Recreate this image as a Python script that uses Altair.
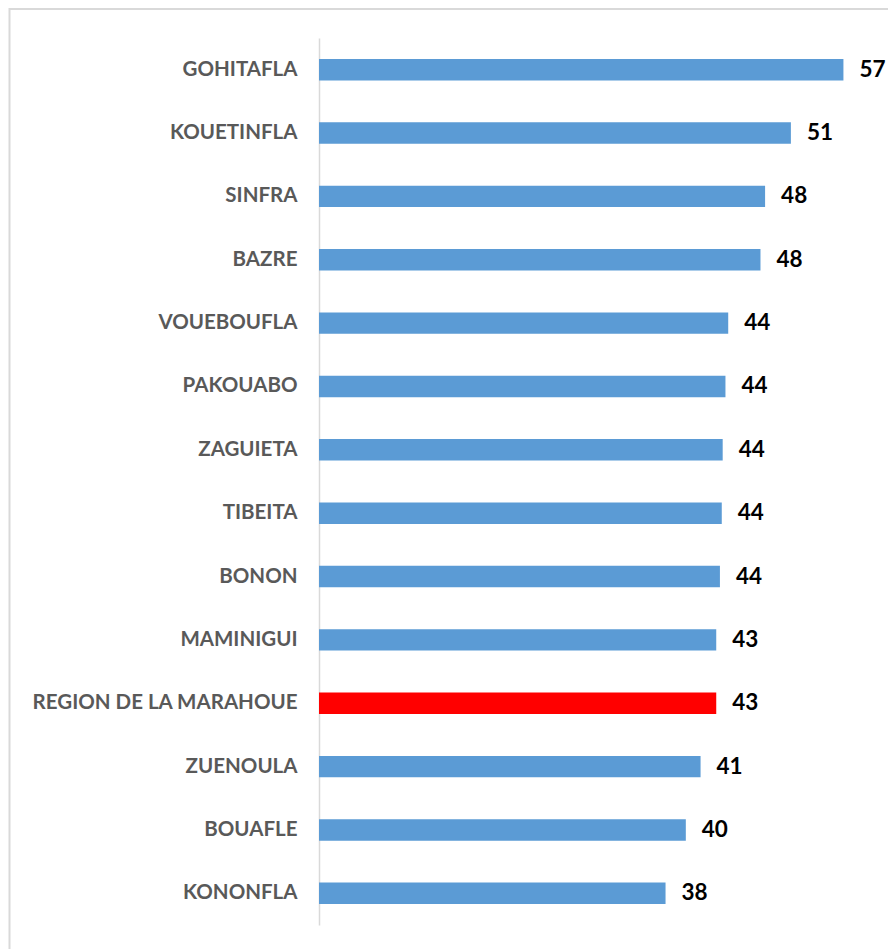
import altair as alt
import pandas as pd

categories = ["GOHITAFLA", "KOUETINFLA", "SINFRA", "BAZRE", "VOUEBOUFLA", "PAKOUABO",
              "ZAGUIETA", "TIBEITA", "BONON", "MAMINIGUI", "REGION DE LA MARAHOUE",
              "ZUENOULA", "BOUAFLE", "KONONFLA"]
values = [56.9, 51.2, 48.4, 47.9, 44.4, 44.1, 43.8, 43.7, 43.5, 43.1, 43.1, 41.4, 39.8, 37.6]
highlight = "REGION DE LA MARAHOUE"

df = pd.DataFrame({"cat": categories, "val": values})
df["is_region"] = df["cat"] == highlight

FONT = "Lato"

y_enc = alt.Y("cat:N", sort=categories, title=None,
              scale=alt.Scale(paddingInner=0.662, paddingOuter=0.331),
              axis=alt.Axis(ticks=False, labelPadding=22, labelFont=FONT, labelFontSize=20.5,
                            labelFontWeight="bold", labelColor="#595959", labelLimit=400,
                            domainColor="#d9d9d9", domainWidth=1.5, grid=False))
x_enc = alt.X("val:Q", axis=None, scale=alt.Scale(domain=[0, 60], nice=False, zero=True))

bars = alt.Chart(df).mark_bar().encode(
    x=x_enc, y=y_enc,
    color=alt.Color("is_region:N", scale=alt.Scale(domain=[False, True], range=["#5B9BD5", "#FF0000"]),
                    legend=None),
)

labels = alt.Chart(df).mark_text(align="left", baseline="middle", dx=16, font=FONT,
                                 fontSize=22.5, fontWeight="bold", color="#000000").encode(
    x=x_enc, y=alt.Y("cat:N", sort=categories),
    text=alt.Text("val:Q", format=".0f"),
)

frame = alt.Chart(pd.DataFrame({"f": [0]})).mark_rect(
    fill="transparent", stroke="#d9d9d9", strokeWidth=2
).encode(x=alt.value(-309.5), x2=alt.value(900), y=alt.value(-29), y2=alt.value(1000))

chart = alt.layer(frame, bars, labels).properties(
    width=553, height=887,
    autosize=alt.AutoSizeParams(type="none"),
    padding={"left": 311, "top": 30, "right": 16, "bottom": 24},
    background="white",
).configure_view(stroke=None)

chart.save("out.html", embed_options={"renderer": "svg", "actions": False})
